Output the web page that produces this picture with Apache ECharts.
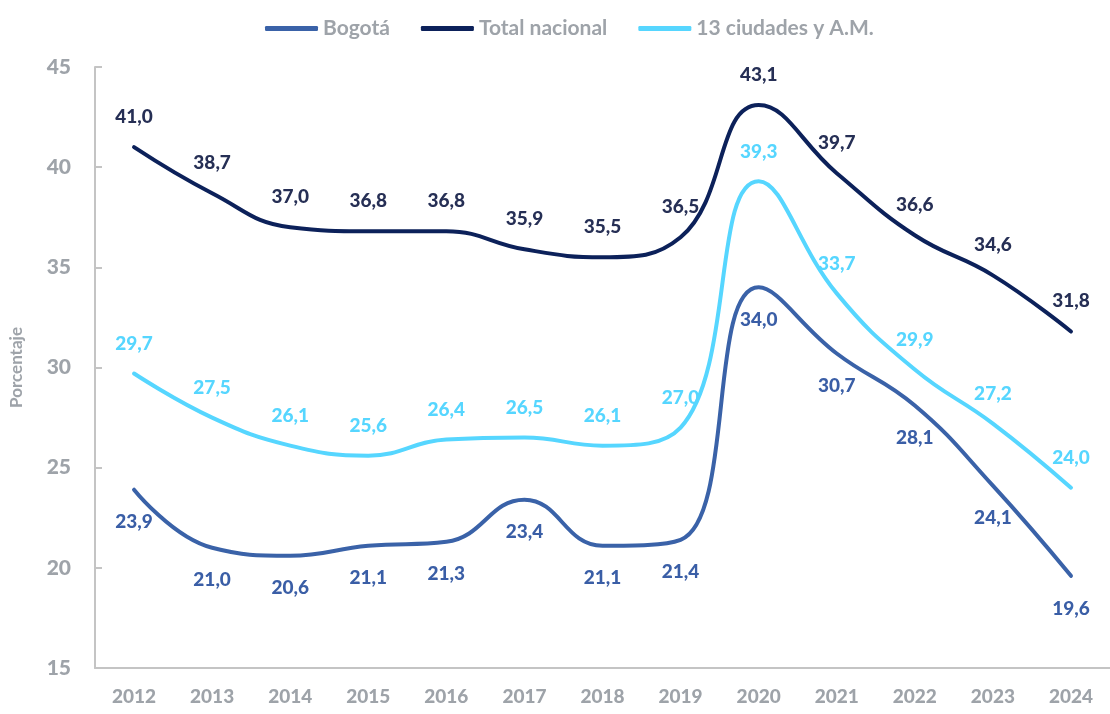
<!DOCTYPE html>
<html>
<head>
<meta charset="utf-8">
<script src="https://cdn.jsdelivr.net/npm/echarts@6/dist/echarts.min.js"></script>
<style>html,body{margin:0;padding:0;background:#fff}#c{width:1110px;height:714px}</style>
</head>
<body>
<div id="c"></div>
<script>
const years = ['2012','2013','2014','2015','2016','2017','2018','2019','2020','2021','2022','2023','2024'];
const bogota = [23.9, 21.0, 20.6, 21.1, 21.3, 23.4, 21.1, 21.4, 34.0, 30.7, 28.1, 24.1, 19.6];
const totalNacional = [41.0, 38.7, 37.0, 36.8, 36.8, 35.9, 35.5, 36.5, 43.1, 39.7, 36.6, 34.6, 31.8];
const ciudades13 = [29.7, 27.5, 26.1, 25.6, 26.4, 26.5, 26.1, 27.0, 39.3, 33.7, 29.9, 27.2, 24.0];
const seriesNames = ['Bogotá', 'Total nacional', '13 ciudades y A.M.'];
const yTicks = { min: 15, max: 45, interval: 5 };

const FONT = 'Lato, "Noto Sans", sans-serif';
const GRAY = '#9ea3a9';
const fmt = p => p.value.toFixed(1).replace('.', ',');

function mk(name, data, color, labelColor, pos, dist) {
  return {
    name, type: 'line', data, smooth: 0.45,
    symbol: 'circle', showSymbol: true, symbolSize: 0.1,
    lineStyle: { color, width: 4, cap: 'round' },
    itemStyle: { color },
    label: {
      show: true, position: pos, distance: dist, formatter: fmt,
      color: labelColor, fontFamily: FONT, fontWeight: 900, fontSize: 19
    },
    emphasis: { disabled: true }
  };
}

const chart = echarts.init(document.getElementById('c'));
chart.setOption({
  animation: false,
  legend: {
    top: 13, left: 260, itemWidth: 53, itemHeight: 5, itemGap: 31,
    icon: 'roundRect',
    textStyle: { color: GRAY, fontFamily: FONT, fontWeight: 'bold', fontSize: 21 },
    data: seriesNames
  },
  grid: { left: 91, right: -11, top: 67, bottom: 46 },
  xAxis: {
    type: 'category', data: years, boundaryGap: true,
    axisLine: { lineStyle: { color: '#c4c4c4', width: 2 } },
    axisTick: { show: false },
    axisLabel: { color: GRAY, fontFamily: FONT, fontWeight: 900, fontSize: 19, margin: 19 }
  },
  yAxis: {
    type: 'value', min: yTicks.min, max: yTicks.max, interval: yTicks.interval,
    name: 'Porcentaje', nameLocation: 'middle', nameGap: 70,
    nameTextStyle: { color: GRAY, fontFamily: FONT, fontWeight: 'bold', fontSize: 17 },
    axisLine: { show: true, lineStyle: { color: '#c4c4c4', width: 2 } },
    axisTick: { show: true, inside: true, length: 7, lineStyle: { color: '#c4c4c4', width: 2 } },
    splitLine: { show: false },
    axisLabel: { color: GRAY, fontFamily: FONT, fontWeight: 900, fontSize: 21, margin: 24 }
  },
  series: [
    mk(seriesNames[0], bogota, '#3a62a8', '#3a5ea6', 'bottom', 23),
    mk(seriesNames[1], totalNacional, '#0c215a', '#262f55', 'top', 21),
    mk(seriesNames[2], ciudades13, '#56d6ff', '#56d6ff', 'top', 20)
  ]
});
</script>
</body>
</html>
